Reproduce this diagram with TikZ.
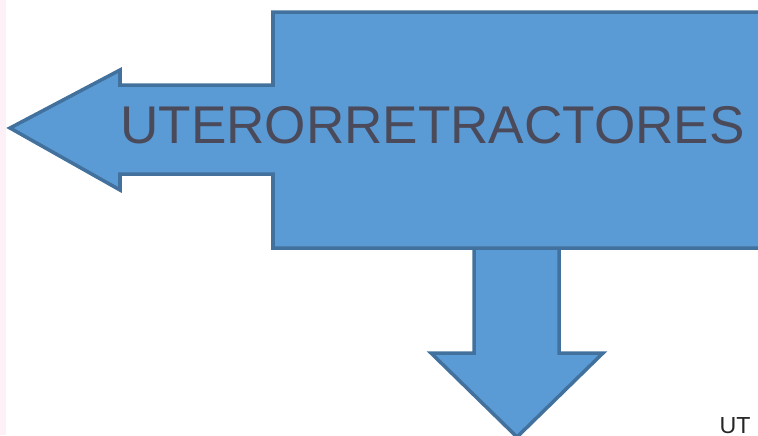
\documentclass[tikz,border=0pt]{standalone}
\usepackage{fontspec}
\setmainfont{Liberation Sans}
\definecolor{shapefill}{RGB}{91,155,213}
\definecolor{shapeline}{RGB}{65,113,156}
\definecolor{labeltext}{RGB}{74,74,90}
\definecolor{edgepink}{RGB}{253,240,246}
\tikzset{
  blueshape/.style={fill=shapefill, draw=shapeline, line width=1pt, line join=miter},
}
\begin{document}
\begin{tikzpicture}[x=0.01cm,y=-0.01cm]
		\useasboundingbox (0,0) rectangle (758,435);
		\clip (0,0) rectangle (758,435);
		\fill[edgepink] (0,0) rectangle (6,435);
		
		% down arrow (behind the box)
		\draw[blueshape] (474,240) -- (559,240) -- (559,353) -- (603,353)
		      -- (517,437) -- (431,353) -- (474,353) -- cycle;
		% left arrow joined to the box
		\draw[blueshape] (273,12) -- (780,12) -- (780,248) -- (273,248)
		      -- (273,174) -- (120,174) -- (120,190) -- (10,128) -- (120,70)
		      -- (120,85) -- (273,85) -- cycle;
		
		\node[anchor=base, inner sep=0pt, text=labeltext] (title) at (432.5,143)
		      {\fontsize{15.1}{18}\selectfont UTERORRETRACTORES};
		\node[anchor=base west, inner sep=0pt, text=black!85] (next) at (719,433)
		      {\fontsize{6.6}{8}\selectfont UT};
\end{tikzpicture}
\end{document}
